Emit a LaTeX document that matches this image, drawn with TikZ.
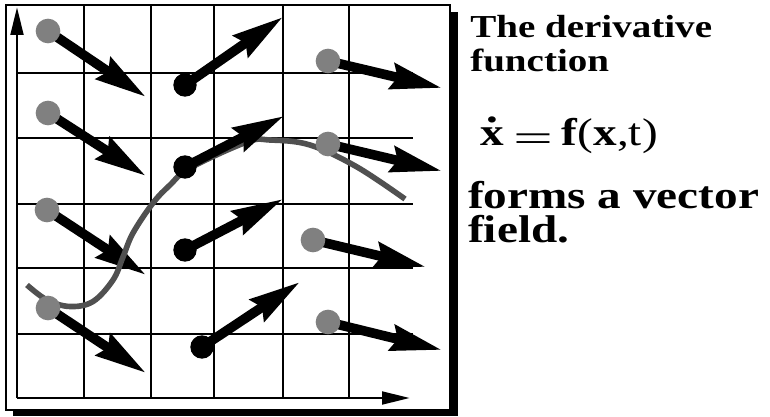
\documentclass[tikz,border=0pt]{standalone}
\usepackage{fontspec}
\setmainfont{Liberation Serif}
\usetikzlibrary{arrows.meta}
\definecolor{dotgray}{RGB}{128,128,128}
\definecolor{curvegray}{RGB}{80,80,80}
\begin{document}
\begin{tikzpicture}[x=0.75pt,y=-0.75pt,
  gridline/.style={line width=2.2pt},
  axisline/.style={line width=2.2pt,-{Triangle[length=21pt,width=9.5pt]}},
  vec/.style={line width=7.2pt,-{Stealth[length=38pt,width=19pt,inset=4pt]}},
  graydot/.style={circle,fill=dotgray,minimum size=18.5pt,inner sep=0pt},
  blackdot/.style={circle,fill=black,minimum size=17.5pt,inner sep=0pt},
  trajectory/.style={line width=4.2pt,draw=curvegray},
  txt/.style={anchor=base west,inner sep=0pt}]
\useasboundingbox (0,0) rectangle (770,417);
% frame with shadow
\fill[black] (13,12) rectangle (458,416);
\draw[line width=1.6pt,fill=white] (6,5) rectangle (450,410);
% grid
\foreach \x in {84,151,214,283,349} \draw[gridline] (\x,5) -- (\x,398);
\foreach \y in {73,138,204,268,334} \draw[gridline] (17,\y) -- (413,\y);
% axes
\coordinate (origin) at (17,398);
\coordinate (ytip) at (17,7);
\coordinate (xtip) at (410,398);
\draw[axisline] (origin) -- (ytip);
\draw[axisline] (origin) -- (xtip);
% points
\coordinate (a1) at (48,31);   \coordinate (a1t) at (146,97);
\coordinate (a2) at (48,113);  \coordinate (a2t) at (146,176);
\coordinate (a3) at (47,210);  \coordinate (a3t) at (146,275);
\coordinate (a4) at (48,308);  \coordinate (a4t) at (146,373);
\coordinate (b1) at (185,85);  \coordinate (b1t) at (283,17);
\coordinate (b2) at (185,167); \coordinate (b2t) at (284,116);
\coordinate (b3) at (185,250); \coordinate (b3t) at (283,199);
\coordinate (b4) at (202,347); \coordinate (b4t) at (300,282);
\coordinate (c1) at (328,61);  \coordinate (c1t) at (442,88);
\coordinate (c2) at (328,144); \coordinate (c2t) at (442,171);
\coordinate (c3) at (313,240); \coordinate (c3t) at (426,267);
\coordinate (c4) at (328,322); \coordinate (c4t) at (442,350);
% first column vectors
\foreach \p in {a1,a2,a3,a4} \draw[vec] (\p) -- (\p t);
% trajectory
\draw[trajectory] plot[smooth,tension=0.6] coordinates {(27,285) (47,300) (70,306.5) (93,301.5) (113,280) (123,257) (133,233) (153,203) (170,185) (190,168) (247,142) (270,140) (310,145) (357,167) (405,199)};
% other vectors
\foreach \p in {b1,b2,b3,b4,c1,c2,c3,c4} \draw[vec] (\p) -- (\p t);
% dots
\foreach \p in {a1,a2,a3,a4,c1,c2,c3,c4} \node[graydot] (\p dot) at (\p) {};
\foreach \p in {b1,b2,b3,b4} \node[blackdot] (\p dot) at (\p) {};
% text
\node[txt] (t1) at (470,38) {\scalebox{1.22}[1]{\fontsize{24}{24}\selectfont\bfseries The derivative}};
\node[txt] (t2) at (470,72) {\scalebox{1.22}[1]{\fontsize{24}{24}\selectfont\bfseries function}};
\node[txt] (eq) at (480,146) {\scalebox{1.22}[1]{\fontsize{29}{29}\selectfont
  \ooalign{\textbf{x}\cr\hidewidth\raisebox{0.62em}{\textbf{.}}\hidewidth\cr}\hspace{0.2em}\raisebox{-0.14em}{\scalebox{1.5}[1]{=}}\hspace{0.18em}\textbf{f}(\textbf{x},t)}};
\node[txt] (t3) at (468,208) {\scalebox{1.22}[1]{\fontsize{29}{29}\selectfont\bfseries forms a vector}};
\node[txt] (t4) at (468,242) {\scalebox{1.22}[1]{\fontsize{29}{29}\selectfont\bfseries field.}};
\end{tikzpicture}
\end{document}
